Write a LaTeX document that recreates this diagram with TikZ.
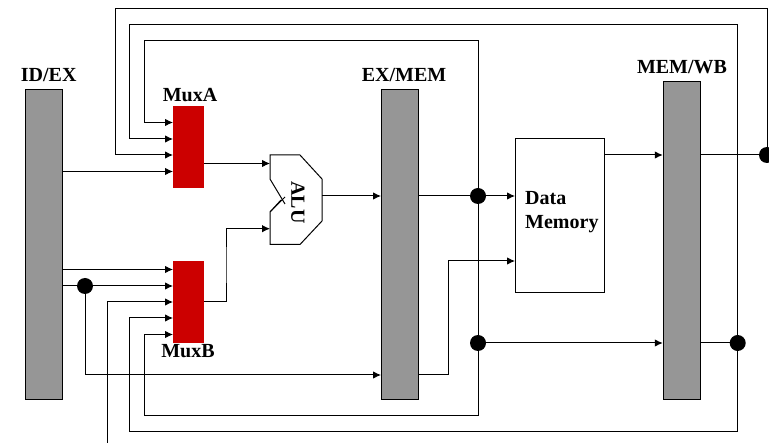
\documentclass[tikz,border=0pt]{standalone}
\usepackage{fontspec}
\setmainfont{Liberation Serif}
\usetikzlibrary{arrows.meta}
\definecolor{regGray}{HTML}{969696}
\definecolor{muxRed}{HTML}{CC0000}
\tikzset{
    reg/.style={draw=black,fill=regGray,line width=1pt,minimum width=37pt,inner sep=0pt},
    mux/.style={fill=muxRed,minimum width=31pt,minimum height=82pt,inner sep=0pt},
    mem/.style={draw=black,line width=1pt,minimum width=89pt,minimum height=154pt,inner sep=0pt},
    joint/.style={circle,fill=black,minimum size=16pt,inner sep=0pt},
    label/.style={font=\fontsize{20}{24}\selectfont\bfseries,inner sep=0pt,anchor=base},
    wire/.style={line width=1pt},
}
\begin{document}
\begin{tikzpicture}[x=1pt,y=-1pt,>={Latex[length=8pt,width=7.5pt]}]
    \useasboundingbox (0,0) rectangle (769,443);

    % Registers
    \node[reg,minimum height=310pt] (idex)  at (43.75,245) {};
    \node[reg,minimum height=310pt] (exmem) at (400,245) {};
    \node[reg,minimum height=318pt] (memwb) at (681.75,241) {};

    \node[label] (idexL)  at (48.7,82)  {ID/EX};
    \node[label] (exmemL) at (404,82)   {EX/MEM};
    \node[label] (memwbL) at (682,74)   {MEM/WB};

    % Muxes
    \node[mux] (muxA) at (188.5,147) {};
    \node[mux] (muxB) at (188.5,302) {};
    \node[label] (muxAL) at (190,101.5) {MuxA};
    \node[label] (muxBL) at (188,358)   {MuxB};

    % Memory
    \node[mem] (dmem) at (559.5,216) {};
    \node[label,anchor=base west] (dmemA) at (525,205) {Data};
    \node[label,anchor=base west] (dmemB) at (525,229) {Memory};

    % ALU
    \draw[wire,line join=miter] (281,200) -- (270,212) -- (270,244.5) -- (300,244.5) -- (322,221)
        -- (322,179) -- (300,155) -- (270,155) -- (270,179) -- (285,204);
    \draw[wire] (270,212) -- (285,197);
    \node[label,anchor=center,rotate=-90] (aluL) at (298,202.5) {ALU};
    \coordinate (aluA) at (270,163.5);
    \coordinate (aluB) at (270,228.7);
    \coordinate (aluOut) at (322,196);

    % Inputs
    \coordinate (muxA1) at (173,122.5);
    \coordinate (muxA2) at (173,139);
    \coordinate (muxA3) at (173,155);
    \coordinate (muxA4) at (173,171.5);
    \coordinate (muxAOut) at (204,163.5);

    \coordinate (muxB1) at (173,269.5);
    \coordinate (muxB2) at (173,286);
    \coordinate (muxB3) at (173,302);
    \coordinate (muxB4) at (173,318);
    \coordinate (muxB5) at (173,334.5);
    \coordinate (muxBOut) at (204,302);

    \coordinate (memIn1) at (515,196);
    \coordinate (memIn2) at (515,261);
    \coordinate (memOut) at (604,155);

    % Joints
    \node[joint] (jID)  at (85,286)  {};
    \node[joint] (jEX)  at (478,196) {};
    \node[joint] (jMEM) at (478,343) {};
    \node[joint] (jWBa) at (737.7,343) {};
    \node[joint] (jWBb) at (767,155) {};

    % Corners
    \coordinate (outerTop) at (115,9);
    \coordinate (midTop)   at (129,25);
    \coordinate (innerTop) at (144,41);
    \coordinate (midBot)   at (129,432);
    \coordinate (innerBot) at (144,416);
    \coordinate (lowEnd)   at (107,443);
    \coordinate (exTurn)   at (448,375);
    \coordinate (muxBTurn) at (226,265);

    % Forward paths
    \draw[wire,->] (idex.east |- muxA4) -- (muxA4);
    \draw[wire,->] (idex.east |- muxB1) -- (muxB1);
    \draw[wire,->] (idex.east |- muxB2) -- (muxB2);
    \draw[wire,->] (muxAOut) -- (aluA);
    \draw[wire,->] (muxBOut) -| (muxBTurn) |- (aluB);
    \draw[wire,->] (aluOut) -- (exmem.west |- aluOut);
    \draw[wire] (exmem.east |- jEX) -- (jEX);
    \draw[wire,->] (jEX) -- (memIn1);
    \draw[wire,->] (jID) |- (exmem.west |- exTurn);
    \draw[wire,->] (exmem.east |- exTurn) -- (exTurn) |- (memIn2);
    \draw[wire,->] (memOut) -- (memwb.west |- memOut);
    \draw[wire,->] (jMEM) -- (memwb.west |- jMEM);
    \draw[wire] (memwb.east |- jWBa) -- (jWBa);
    \draw[wire] (memwb.east |- jWBb) -- (jWBb);

    % Feedback paths
    \draw[wire,->] (jWBb) |- (outerTop) |- (muxA3);
    \draw[wire,->] (lowEnd) |- (muxB3);
    \draw[wire,->] (jWBa) |- (midTop) |- (muxA2);
    \draw[wire,->] (jWBa) |- (midBot) |- (muxB4);
    \draw[wire,->] (jEX) |- (innerTop) |- (muxA1);
    \draw[wire] (jEX) -- (jMEM);
    \draw[wire,->] (jMEM) |- (innerBot) |- (muxB5);
\end{tikzpicture}
\end{document}
